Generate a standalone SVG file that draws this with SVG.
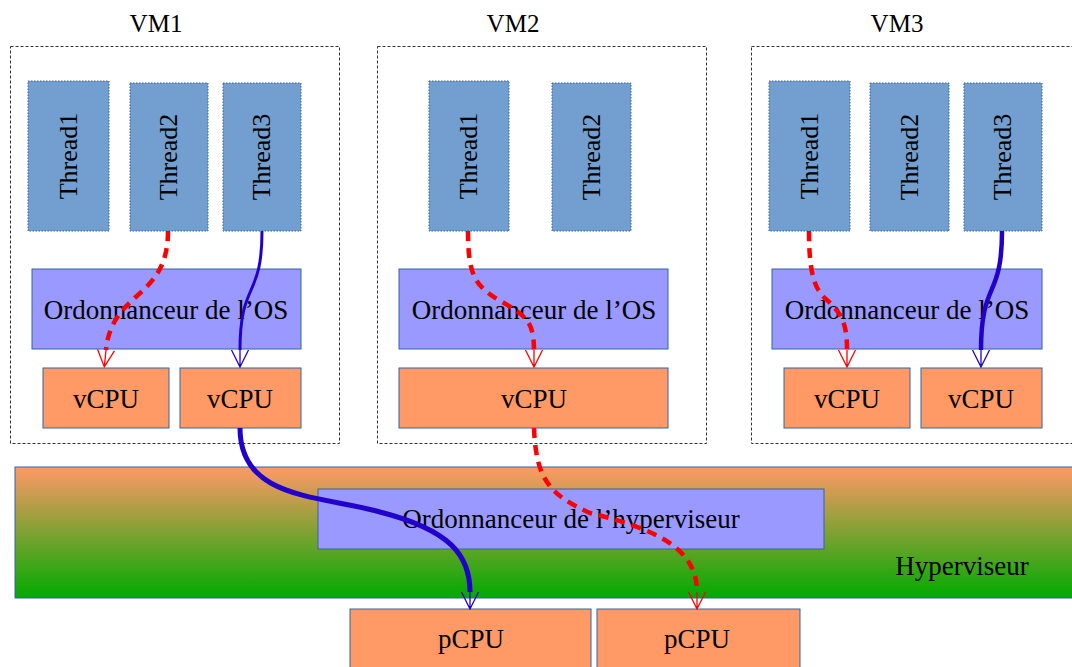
<svg xmlns="http://www.w3.org/2000/svg" width="1072" height="667" viewBox="0 0 1072 667">
<style>
text{font-family:"Liberation Serif","Times New Roman",serif;fill:#000}
.lbl{font-size:27px;text-anchor:middle}
.vm{font-size:25px;text-anchor:middle}
.th{font-size:26px;text-anchor:middle}
.vmbox{fill:none;stroke:#333;stroke-width:1;stroke-dasharray:3,2}
.thread{fill:#729fcf;stroke:#3465a4;stroke-width:1;stroke-dasharray:1.5,1.5}
.os{fill:#9999ff;stroke:#3465a4;stroke-width:1}
.cpu{fill:#ff9966;stroke:#3465a4;stroke-width:1}
.red{fill:none;stroke:#ff0000;stroke-width:4.5;stroke-dasharray:10,7}
.blue{fill:none;stroke:#2200cc}
</style>
<defs>
<linearGradient id="hypg" x1="0" y1="0" x2="0" y2="1">
<stop offset="0" stop-color="#ff9966"/>
<stop offset="1" stop-color="#00aa00"/>
</linearGradient>
<marker id="arR" markerUnits="userSpaceOnUse" viewBox="-1 -10 19 20" markerWidth="19" markerHeight="20" refX="0" refY="0" orient="auto">
<path d="M0,-8.5 L17,0 L0,8.5 M0,0 L17,0" fill="none" stroke="#ff0000" stroke-width="1.3"/>
</marker>
<marker id="arB" markerUnits="userSpaceOnUse" viewBox="-1 -10 19 20" markerWidth="19" markerHeight="20" refX="0" refY="0" orient="auto">
<path d="M0,-8.5 L17,0 L0,8.5 M0,0 L17,0" fill="none" stroke="#2200cc" stroke-width="1.3"/>
</marker>
</defs>
<rect width="1072" height="667" fill="#fff"/>

<g id="hyperviseur">
<rect x="15" y="467" width="1070" height="131" fill="url(#hypg)" stroke="#3465a4" stroke-width="1"/>
<text class="lbl" x="962" y="575">Hyperviseur</text>
</g>
<g id="ord-hyperviseur">
<rect class="os" x="318" y="489" width="506" height="60"/>
<text class="lbl" x="571" y="528">Ordonnanceur de l’hyperviseur</text>
</g>
<g id="pcpu1">
<rect class="cpu" x="350" y="609" width="241" height="70"/>
<text class="lbl" x="471" y="648">pCPU</text>
</g>
<g id="pcpu2">
<rect class="cpu" x="597" y="609" width="203" height="70"/>
<text class="lbl" x="697" y="648">pCPU</text>
</g>

<g id="vm1">
<text class="vm" x="156" y="32">VM1</text>
<rect class="vmbox" x="10.5" y="46.5" width="329" height="397"/>
</g>
<g id="vm1-thread1"><rect class="thread" x="28" y="81" width="81" height="150"/><text class="th" transform="translate(77,156) rotate(-90)">Thread1</text></g>
<g id="vm1-thread2"><rect class="thread" x="130" y="83" width="78" height="148"/><text class="th" transform="translate(177,157) rotate(-90)">Thread2</text></g>
<g id="vm1-thread3"><rect class="thread" x="223" y="83" width="78" height="148"/><text class="th" transform="translate(270,157) rotate(-90)">Thread3</text></g>
<g id="vm1-os"><rect class="os" x="32" y="269" width="269" height="80"/><text class="lbl" x="166" y="319">Ordonnanceur de l’OS</text></g>
<g id="vm1-vcpu1"><rect class="cpu" x="43" y="368" width="126" height="60"/><text class="lbl" x="106" y="408">vCPU</text></g>
<g id="vm1-vcpu2"><rect class="cpu" x="180" y="368" width="121" height="60"/><text class="lbl" x="240" y="408">vCPU</text></g>

<g id="vm2">
<text class="vm" x="513" y="32">VM2</text>
<rect class="vmbox" x="377.5" y="46.5" width="329" height="397"/>
</g>
<g id="vm2-thread1"><rect class="thread" x="429" y="81" width="80" height="150"/><text class="th" transform="translate(477,156) rotate(-90)">Thread1</text></g>
<g id="vm2-thread2"><rect class="thread" x="552" y="83" width="79" height="148"/><text class="th" transform="translate(600,157) rotate(-90)">Thread2</text></g>
<g id="vm2-os"><rect class="os" x="399" y="269" width="269" height="80"/><text class="lbl" x="534" y="319">Ordonnanceur de l’OS</text></g>
<g id="vm2-vcpu"><rect class="cpu" x="399" y="368" width="269" height="60"/><text class="lbl" x="534" y="408">vCPU</text></g>

<g id="vm3">
<text class="vm" x="897" y="32">VM3</text>
<rect class="vmbox" x="751.5" y="46.5" width="340" height="397"/>
</g>
<g id="vm3-thread1"><rect class="thread" x="769" y="81" width="81" height="150"/><text class="th" transform="translate(818,156) rotate(-90)">Thread1</text></g>
<g id="vm3-thread2"><rect class="thread" x="870" y="83" width="79" height="148"/><text class="th" transform="translate(918,157) rotate(-90)">Thread2</text></g>
<g id="vm3-thread3"><rect class="thread" x="964" y="83" width="78" height="148"/><text class="th" transform="translate(1011,157) rotate(-90)">Thread3</text></g>
<g id="vm3-os"><rect class="os" x="772" y="269" width="270" height="80"/><text class="lbl" x="907" y="319">Ordonnanceur de l’OS</text></g>
<g id="vm3-vcpu1"><rect class="cpu" x="784" y="368" width="126" height="60"/><text class="lbl" x="847" y="408">vCPU</text></g>
<g id="vm3-vcpu2"><rect class="cpu" x="921" y="368" width="121" height="60"/><text class="lbl" x="981" y="408">vCPU</text></g>

<g id="connectors">
<path class="red" marker-end="url(#arR)" d="M168,231 C168,300 112,290 106,350"/>
<path class="blue" stroke-width="3" marker-end="url(#arB)" d="M262,231 C262,300 240,280 240,350"/>
<path class="blue" stroke-width="5" marker-end="url(#arB)" d="M240,428 C240,500 320,495 380,512 C450,530 470,555 470,592"/>
<path class="red" marker-end="url(#arR)" d="M468,231 C468,275 475,285 497,299 C525,315 534,320 534,350"/>
<path class="red" marker-end="url(#arR)" d="M534,428 C536,480 550,495 590,513 C660,530 697,550 697,592"/>
<path class="red" marker-end="url(#arR)" d="M809,231 C809,275 815,290 827,300 C843,315 847,325 847,350"/>
<path class="blue" stroke-width="4.5" marker-end="url(#arB)" d="M1002,231 C1002,300 981,280 981,350"/>
</g>
</svg>
